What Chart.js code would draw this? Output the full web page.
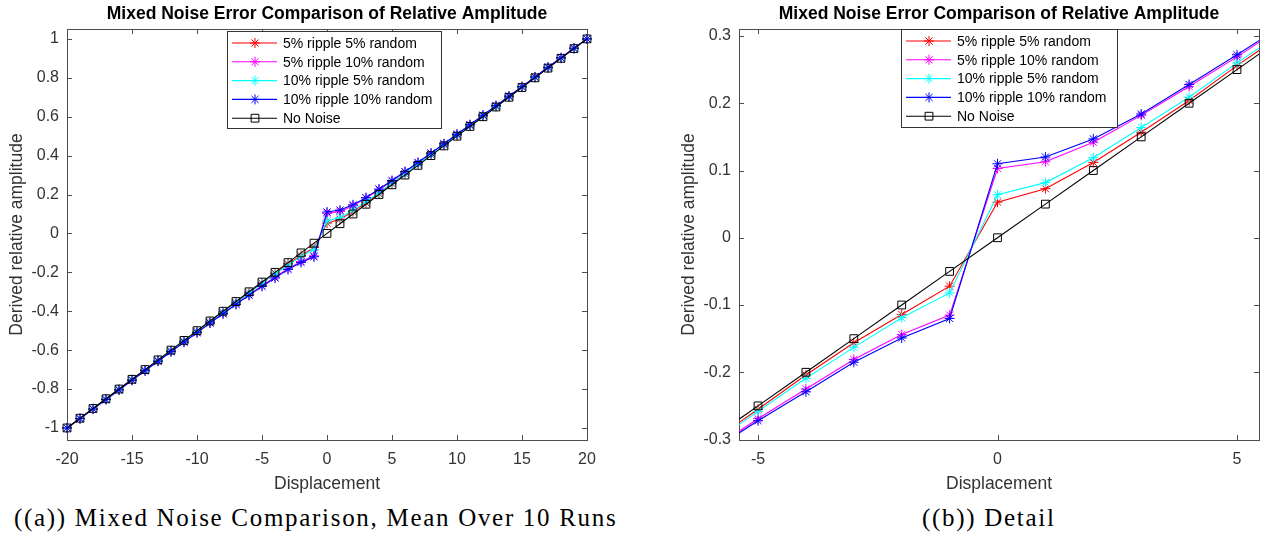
<!DOCTYPE html>
<html>
<head>
<meta charset="utf-8">
<script src="https://cdn.jsdelivr.net/npm/chart.js@4"></script>
<style>
  body { margin: 0; background: #fff; width: 1264px; height: 540px; overflow: hidden; position: relative; }
  #full { position: absolute; left: 0; top: 0; }
  #detail { position: absolute; left: 632px; top: 0; }
  .cap { position: absolute; top: 504px; font-family: "Liberation Serif", serif; font-size: 25px; white-space: nowrap; color: #000; letter-spacing: 1.7px; }
</style>
</head>
<body>
<canvas id="full" width="654" height="500"></canvas>
<canvas id="detail" width="694" height="500"></canvas>
<div class="cap" style="left:14px">((a)) Mixed Noise Comparison, Mean Over 10 Runs</div>
<div class="cap" style="left:922px">((b)) Detail</div>
<script>
const displacement = [-20,-19,-18,-17,-16,-15,-14,-13,-12,-11,-10,-9,-8,-7,-6,-5,-4,-3,-2,-1,0,1,2,3,4,5,6,7,8,9,10,11,12,13,14,15,16,17,18,19,20];

const ripple5random5 = [-1,-0.951,-0.901,-0.851,-0.802,-0.752,-0.702,-0.653,-0.603,-0.553,-0.504,-0.454,-0.404,-0.355,-0.305,-0.255,-0.204,-0.156,-0.114,-0.072,
  0.053,0.073,0.112,0.157,0.204,0.256,0.305,0.355,0.404,0.454,0.504,0.553,0.603,0.653,0.702,0.752,0.802,0.851,0.901,0.951,1];
const ripple5random10 = [-1,-0.952,-0.903,-0.853,-0.804,-0.754,-0.705,-0.656,-0.607,-0.558,-0.509,-0.460,-0.412,-0.363,-0.316,-0.269,-0.225,-0.181,-0.144,-0.115,
  0.103,0.113,0.142,0.182,0.225,0.269,0.316,0.363,0.412,0.460,0.509,0.558,0.607,0.656,0.705,0.754,0.804,0.853,0.903,0.952,1];
const ripple10random5 = [-1,-0.951,-0.901,-0.851,-0.802,-0.752,-0.703,-0.653,-0.604,-0.554,-0.505,-0.456,-0.406,-0.357,-0.308,-0.258,-0.209,-0.163,-0.119,-0.082,
  0.064,0.082,0.119,0.164,0.209,0.260,0.308,0.357,0.406,0.456,0.505,0.554,0.604,0.653,0.703,0.752,0.802,0.851,0.901,0.951,1];
const ripple10random10 = [-1,-0.952,-0.903,-0.854,-0.805,-0.755,-0.706,-0.657,-0.608,-0.559,-0.510,-0.461,-0.413,-0.365,-0.318,-0.272,-0.229,-0.185,-0.149,-0.120,
  0.110,0.120,0.147,0.184,0.228,0.272,0.318,0.365,0.413,0.461,0.510,0.559,0.608,0.657,0.706,0.755,0.805,0.854,0.903,0.952,1];
const noNoise = [-1,-0.95,-0.9,-0.85,-0.8,-0.75,-0.7,-0.65,-0.6,-0.55,-0.5,-0.45,-0.4,-0.35,-0.3,-0.25,-0.2,-0.15,-0.1,-0.05,
  0,0.05,0.1,0.15,0.2,0.25,0.3,0.35,0.4,0.45,0.5,0.55,0.6,0.65,0.7,0.75,0.8,0.85,0.9,0.95,1];

const seriesNames = ['5% ripple 5% random', '5% ripple 10% random', '10% ripple 5% random', '10% ripple 10% random', 'No Noise'];
const seriesValues = [ripple5random5, ripple5random10, ripple10random5, ripple10random10, noNoise];
const seriesColors = ['#ff0000', '#ff00ff', '#00ffff', '#0000ff', '#000000'];

const xTicksFull = [-20,-15,-10,-5,0,5,10,15,20];
const yTicksFull = [-1,-0.8,-0.6,-0.4,-0.2,0,0.2,0.4,0.6,0.8,1];
const xTicksDetail = [-5,0,5];
const yTicksDetail = [-0.3,-0.2,-0.1,0,0.1,0.2,0.3];

const titleText = 'Mixed Noise Error Comparison of Relative Amplitude';
const FONT = '"Liberation Sans", Arial, sans-serif';
const AXIS = '#4d4d4d';

function makeDatasets(clip) {
  return seriesNames.map((name, i) => ({
    label: name,
    data: displacement.map((x, j) => ({ x: x, y: seriesValues[i][j] })),
    borderColor: seriesColors[i],
    backgroundColor: 'rgba(0,0,0,0)',
    borderWidth: 1.1,
    pointStyle: i === 4 ? 'rect' : 'star',
    pointRadius: i === 4 ? 5.5 : 5,
    pointBorderWidth: 1,
    pointBorderColor: seriesColors[i],
    pointBackgroundColor: 'rgba(0,0,0,0)',
    tension: 0,
    order: 5 - i,
    clip: clip
  }));
}

// axes box with inward ticks on all four sides, like matlab
const boxPlugin = {
  id: 'box',
  beforeDatasetsDraw(chart) {
    const { ctx, chartArea: a, scales } = chart;
    ctx.save();
    ctx.strokeStyle = AXIS;
    ctx.lineWidth = 1;
    ctx.strokeRect(a.left + 0.5, a.top + 0.5, a.right - a.left, a.bottom - a.top);
    ctx.beginPath();
    scales.x.ticks.forEach(t => {
      const px = Math.round(scales.x.getPixelForValue(t.value)) + 0.5;
      ctx.moveTo(px, a.bottom); ctx.lineTo(px, a.bottom - 5);
      ctx.moveTo(px, a.top); ctx.lineTo(px, a.top + 5);
    });
    scales.y.ticks.forEach(t => {
      const py = Math.round(scales.y.getPixelForValue(t.value)) + 0.5;
      ctx.moveTo(a.left, py); ctx.lineTo(a.left + 5, py);
      ctx.moveTo(a.right, py); ctx.lineTo(a.right - 5, py);
    });
    ctx.stroke();
    ctx.restore();
  }
};

const legendPlugin = {
  id: 'boxLegend',
  afterDatasetsDraw(chart, args, opts) {
    const { ctx, chartArea: a } = chart;
    const x0 = a.left + opts.dx, y0 = a.top + opts.dy;
    ctx.save();
    ctx.fillStyle = '#fff';
    ctx.fillRect(x0, y0, opts.w, opts.h);
    ctx.strokeStyle = '#333';
    ctx.lineWidth = 1;
    ctx.strokeRect(x0 + 0.5, y0 + 0.5, opts.w, opts.h);
    ctx.font = '14px ' + FONT;
    ctx.textBaseline = 'middle';
    seriesNames.forEach((name, i) => {
      const cy = y0 + 12 + i * 18.8;
      ctx.strokeStyle = seriesColors[i];
      ctx.lineWidth = 1.1;
      ctx.beginPath();
      ctx.moveTo(x0 + 5, cy); ctx.lineTo(x0 + 50, cy);
      ctx.stroke();
      ctx.fillStyle = 'rgba(0,0,0,0)';
      ctx.lineWidth = 1;
      Chart.helpers.drawPoint(ctx, { pointStyle: i === 4 ? 'rect' : 'star', radius: i === 4 ? 5.5 : 5, rotation: 0, borderWidth: 1 }, x0 + 28, cy);
      ctx.fillStyle = '#000';
      ctx.fillText(name, x0 + 56, cy + 1);
    });
    ctx.restore();
  }
};

function makeChart(id, cfg) {
  return new Chart(document.getElementById(id), {
    type: 'scatter',
    data: { datasets: makeDatasets(cfg.clip) },
    options: {
      responsive: false,
      animation: false,
      showLine: true,
      layout: { padding: cfg.padding },
      plugins: {
        legend: { display: false },
        tooltip: { enabled: false },
        title: { display: true, text: titleText, color: '#000', font: { family: FONT, size: 17.5, weight: 'bold' }, padding: { top: 4, bottom: 4 } },
        boxLegend: cfg.legend
      },
      scales: {
        x: {
          type: 'linear', min: cfg.xMin, max: cfg.xMax,
          afterBuildTicks: s => { s.ticks = cfg.xTicks.map(v => ({ value: v })); },
          grid: { display: false, drawTicks: false }, border: { display: false },
          ticks: { padding: 10, color: '#333', font: { family: FONT, size: 16 }, maxRotation: 0, autoSkip: false, callback: v => String(v) },
          title: { display: true, text: 'Displacement', color: '#333', font: { family: FONT, size: 17.5 }, padding: { top: 0, bottom: 5 } },
          afterFit: s => { s.height = 60; }
        },
        y: {
          type: 'linear', min: cfg.yMin, max: cfg.yMax,
          afterBuildTicks: s => { s.ticks = cfg.yTicks.map(v => ({ value: v })); },
          grid: { display: false, drawTicks: false }, border: { display: false },
          ticks: { padding: 8, color: '#333', font: { family: FONT, size: 16 }, autoSkip: false, callback: v => String(v) },
          title: { display: true, text: 'Derived relative amplitude', color: '#333', font: { family: FONT, size: 17.5 }, padding: { top: 7, bottom: 0 } },
          afterFit: s => { s.width = 67; }
        },
        // empty right-hand strip so the title centres over the plot box
        yRight: {
          type: 'linear', position: 'right', min: cfg.yMin, max: cfg.yMax,
          grid: { display: false, drawTicks: false }, border: { display: false },
          ticks: { display: false },
          afterFit: s => { s.width = 67; }
        }
      }
    },
    plugins: [boxPlugin, legendPlugin]
  });
}

makeChart('full', {
  clip: false,
  padding: { left: 0, right: 0, top: 0, bottom: 0 },
  xMin: -20, xMax: 20, yMin: -1.062, yMax: 1.051,
  xTicks: xTicksFull, yTicks: yTicksFull,
  legend: { dx: 160, dy: 2, w: 214, h: 97 }
});

makeChart('detail', {
  clip: undefined,
  padding: { left: 40, right: 0, top: 0, bottom: 0 },
  xMin: -5.397, xMax: 5.459, yMin: -0.3007, yMax: 0.3104,
  xTicks: xTicksDetail, yTicks: yTicksDetail,
  legend: { dx: 162, dy: 0, w: 216, h: 98 }
});
</script>
</body>
</html>
